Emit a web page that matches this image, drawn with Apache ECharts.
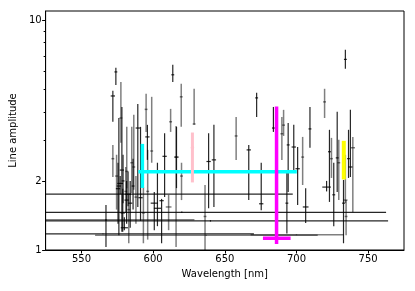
<!DOCTYPE html>
<html>
<head>
<meta charset="utf-8">
<script src="https://cdn.jsdelivr.net/npm/echarts@6/dist/echarts.min.js"></script>
<style>html,body{margin:0;padding:0;background:#fff;}#c{width:415px;height:291px;}</style>
</head>
<body>
<div id="c"></div>
<script>
// Tick values
const xTicks = [550, 600, 650, 700, 750];
const yMajorTicks = [1, 2, 10];
const yMinorTicks = [3, 4, 5, 6, 7, 8, 9];

// Error-bar points: [wavelength, amplitude, ampLow, ampHigh, waveErr]
const darkPoints = [
  [571.9, 4.69, 3.62, 4.94, 1.5],
  [574.0, 5.97, 5.24, 6.22, 1.0],
  [578.2, 2.23, 1.20, 4.20, 1.5],
  [576.1, 1.90, 1.16, 3.76, 1.5],
  [589.3, 3.40, 1.54, 4.33, 1.5],
  [591.2, 1.69, 1.34, 3.44, 1.5],
  [596.0, 3.11, 2.47, 3.51, 1.5],
  [600.8, 1.60, 1.22, 1.79, 2.5],
  [603.0, 1.52, 1.27, 2.40, 2.5],
  [605.9, 1.64, 1.07, 1.67, 1.5],
  [608.0, 2.56, 1.70, 3.23, 1.5],
  [613.7, 5.80, 5.40, 6.41, 1.0],
  [616.3, 2.54, 1.86, 3.44, 1.5],
  [638.7, 2.43, 1.52, 3.23, 1.5],
  [642.4, 2.47, 1.54, 3.51, 1.5],
  [666.7, 2.73, 1.65, 2.87, 1.5],
  [672.2, 4.60, 3.80, 4.84, 1.0],
  [675.4, 1.59, 1.49, 2.40, 1.5],
  [683.9, 3.40, 3.27, 4.20, 1.0],
  [694.2, 2.87, 1.79, 3.58, 1.0],
  [693.3, 1.60, 1.18, 2.20, 1.0],
  [698.1, 2.81, 2.23, 3.51, 1.5],
  [700.8, 2.26, 1.57, 2.81, 1.5],
  [706.4, 1.54, 1.31, 1.86, 2.0],
  [709.4, 3.37, 2.79, 4.20, 1.0],
  [721.0, 1.88, 1.80, 2.00, 3.0],
  [723.0, 2.68, 1.62, 3.34, 1.0],
  [726.0, 1.74, 1.27, 2.40, 1.0],
  [728.4, 2.52, 1.79, 4.00, 1.0],
  [732.8, 1.60, 1.07, 2.02, 1.0],
  [736.3, 2.50, 2.06, 3.34, 1.0],
  [737.6, 2.30, 2.08, 4.08, 1.5],
  [734.1, 6.77, 6.16, 7.45, 1.0],
  [579.9, 1.25, 1.22, 1.39, 2.5],
  [577.0, 1.95, 1.75, 2.10, 2.0],
  [581.5, 1.65, 1.30, 2.00, 1.5],
  [578.8, 1.45, 1.20, 1.85, 1.5],
  [567.1, 1.35, 1.03, 1.57, 0.5],
  [575.5, 1.85, 1.30, 2.40, 1.5],
  [579.0, 2.00, 1.60, 2.60, 1.0],
  [582.5, 1.75, 1.55, 2.20, 2.0],
  [584.0, 1.60, 1.25, 2.00, 1.5],
  [586.0, 1.90, 1.50, 2.50, 1.0]
];
const grayPoints = [
  [577.5, 3.76, 2.93, 5.40, 1.0],
  [571.9, 2.50, 2.08, 2.87, 1.0],
  [581.6, 2.20, 1.86, 3.44, 1.0],
  [586.5, 2.30, 1.83, 3.88, 1.0],
  [595.1, 4.10, 3.27, 4.79, 1.0],
  [599.0, 2.70, 2.40, 4.65, 1.0],
  [596.2, 1.80, 1.11, 2.73, 1.0],
  [593.2, 1.45, 1.07, 1.88, 1.0],
  [610.8, 1.54, 1.22, 1.74, 2.0],
  [612.2, 3.62, 3.27, 4.12, 1.0],
  [616.0, 2.54, 1.03, 3.47, 1.0],
  [619.6, 4.65, 3.44, 5.30, 1.0],
  [619.8, 2.10, 1.65, 2.40, 1.0],
  [628.6, 3.54, 3.51, 5.04, 1.0],
  [636.2, 1.40, 1.00, 1.92, 1.0],
  [657.9, 3.14, 2.47, 3.80, 1.0],
  [689.8, 3.21, 2.47, 3.80, 1.0],
  [691.0, 3.50, 3.14, 4.08, 1.0],
  [704.3, 2.54, 1.92, 3.11, 1.0],
  [719.6, 4.42, 3.76, 5.04, 1.0],
  [724.4, 2.50, 2.06, 3.08, 1.0],
  [729.5, 2.40, 1.65, 3.02, 1.0],
  [734.1, 1.65, 1.60, 2.60, 1.5],
  [734.6, 1.40, 1.16, 1.65, 1.0],
  [739.3, 2.79, 1.46, 3.11, 1.5],
  [585.1, 2.40, 1.77, 3.44, 1.0],
  [583.0, 1.50, 1.07, 1.74, 1.0],
  [580.9, 1.80, 1.45, 2.30, 1.0],
  [574.5, 2.10, 1.50, 2.60, 1.0],
  [588.0, 1.70, 1.30, 2.10, 1.0]
];
// Wide points: [wavelength, amplitude, ampLow, ampHigh, waveLow, waveHigh]
const darkWide = [
  [591.4, 1.75, 1.74, 1.76, 490, 697.4],
  [620.0, 1.46, 1.45, 1.47, 470, 762.5],
  [640.0, 1.34, 1.33, 1.35, 500, 763.9],
  [565.0, 1.175, 1.17, 1.18, 490, 670.3]
];
const grayWide = [
  [567.1, 1.355, 1.35, 1.36, 500, 628.8],
  [637.0, 1.16, 1.155, 1.165, 559.5, 714.8],
  [700.0, 1.165, 1.16, 1.17, 668.0, 733.0]
];
const cyanPoint = [[592.5, 2.195, 1.864, 2.90, 589.7, 700.2]];
const pinkPoint = [[627.4, 2.79, 1.97, 3.25, 626.5, 628.3]];
const magentaPoint = [[686.1, 1.125, 1.062, 4.22, 676.6, 695.9]];
const yellowPoint = [[733.0, 2.45, 2.03, 2.99, 732.5, 733.5]];

function toRows(arr) {
  return arr.map(function (p) {
    if (p.length === 5) return [p[0], p[1], p[2], p[3], p[0] - p[4], p[0] + p[4]];
    return p.slice();
  });
}

function errSeries(name, arr, color, width, z, dot) {
  return {
    type: 'custom', name: name, z: z, clip: true,
    data: toRows(arr),
    encode: { x: 0, y: 1 },
    renderItem: function (params, api) {
      const x = api.value(0), y = api.value(1);
      const a = api.coord([x, api.value(2)]);
      const b = api.coord([x, api.value(3)]);
      const c = api.coord([api.value(4), y]);
      const d = api.coord([api.value(5), y]);
      const children = [
        { type: 'line', shape: { x1: a[0], y1: a[1], x2: b[0], y2: b[1] }, style: { stroke: color, lineWidth: width } },
        { type: 'line', shape: { x1: c[0], y1: c[1], x2: d[0], y2: d[1] }, style: { stroke: color, lineWidth: width } }
      ];
      if (dot) {
        const m = api.coord([x, y]);
        children.push({ type: 'circle', shape: { cx: m[0], cy: m[1], r: 1.8 }, style: { fill: color } });
      }
      return { type: 'group', children: children };
    }
  };
}

const chart = echarts.init(document.getElementById('c'), null, { renderer: 'canvas' });
const font = 'DejaVu Sans';
chart.setOption({
  animation: false,
  grid: { left: 43, right: 11, top: 11, bottom: 41, show: true, borderColor: '#000', borderWidth: 1, backgroundColor: 'transparent' },
  xAxis: {
    type: 'value', min: 525, max: 775,
    name: 'Wavelength [nm]', nameLocation: 'middle', nameGap: 19,
    nameTextStyle: { fontFamily: font, fontSize: 10, color: '#000' },
    axisLine: { show: true, lineStyle: { color: '#000', width: 1 } },
    axisTick: { show: true, length: 3.5, lineStyle: { color: '#000' }, customValues: xTicks },
    axisLabel: { customValues: xTicks, fontFamily: font, fontSize: 10, color: '#000', margin: 4 },
    splitLine: { show: false }
  },
  yAxis: [{
    type: 'log', logBase: 10, min: 1, max: 11,
    name: 'Line amplitude', nameLocation: 'middle', nameGap: 26,
    nameTextStyle: { fontFamily: font, fontSize: 10, color: '#000' },
    axisLine: { show: true, lineStyle: { color: '#000', width: 1 } },
    axisTick: { show: true, length: 3.5, lineStyle: { color: '#000' }, customValues: yMajorTicks },
    axisLabel: { customValues: yMajorTicks, fontFamily: font, fontSize: 10, color: '#000', margin: 4,
      formatter: function (v) { return String(Math.round(v)); } },
    splitLine: { show: false }
  }, {
    type: 'log', logBase: 10, min: 1, max: 11, position: 'left',
    axisLine: { show: false },
    axisTick: { show: true, length: 2, lineStyle: { color: '#000' }, customValues: yMinorTicks },
    axisLabel: { show: false },
    splitLine: { show: false }
  }],
  series: [
    errSeries('gray', grayPoints, 'rgba(0,0,0,0.5)', 1.5, 2),
    errSeries('grayWide', grayWide, 'rgba(0,0,0,0.5)', 1.4, 2),
    errSeries('dark', darkPoints, 'rgba(0,0,0,0.85)', 1.2, 3),
    errSeries('darkWide', darkWide, 'rgba(0,0,0,0.85)', 1.2, 3),
    errSeries('cyan', cyanPoint, '#00ffff', 3.5, 5),
    errSeries('pink', pinkPoint, '#ffc0cb', 3, 6, true),
    errSeries('magenta', magentaPoint, '#ff00ff', 3.5, 7),
    errSeries('yellow', yellowPoint, '#ffff00', 4, 8)
  ]
});
</script>
</body>
</html>
